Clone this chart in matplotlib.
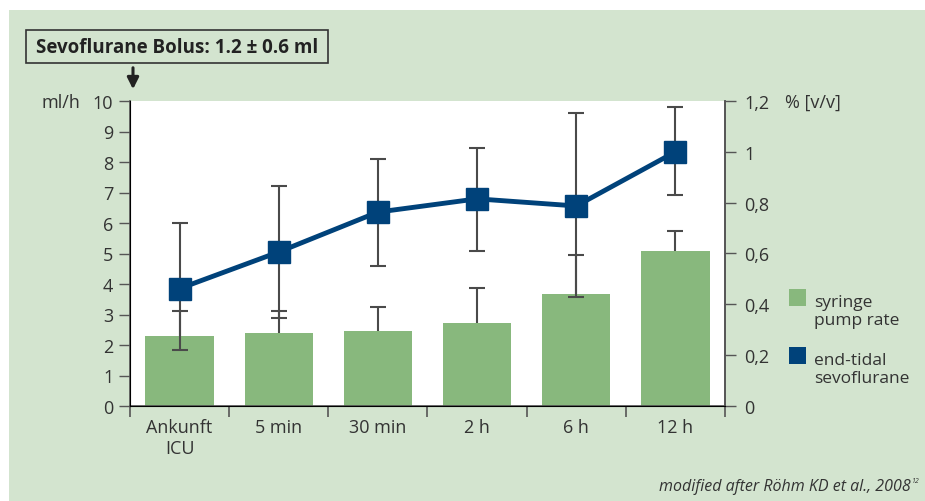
import numpy as np
import matplotlib.pyplot as plt
from matplotlib.patches import Rectangle, FancyArrowPatch

# categories and values
categories = ['Ankunft\nICU', '5 min', '30 min', '2 h', '6 h', '12 h']
pump_rate = [2.30, 2.38, 2.47, 2.73, 3.67, 5.08]        # ml/h
pump_upper = [3.10, 3.10, 3.25, 3.86, 4.95, 5.74]       # ml/h, top of error bar
sevo = [0.462, 0.606, 0.763, 0.815, 0.787, 1.000]       # % v/v
sevo_upper = [0.720, 0.866, 0.972, 1.015, 1.152, 1.176]
sevo_lower = [0.220, 0.348, 0.552, 0.610, 0.428, 0.830]
left_ticks = list(range(0, 11))
right_ticks = [0, 0.2, 0.4, 0.6, 0.8, 1.0, 1.2]
right_labels = ['0', '0,2', '0,4', '0,6', '0,8', '1', '1,2']

bg = '#d3e4cf'
green = '#88b87d'
blue = '#00427a'
dark = '#333333'
errc = '#4a4a4a'

plt.rcParams['font.family'] = ['Open Sans', 'DejaVu Sans']

fig = plt.figure(figsize=(9.25, 5.02), dpi=100)
fig.patch.set_facecolor('white')
fig.patches.append(Rectangle((9/925, 0), 1, 1 - 11/502, transform=fig.transFigure,
                             facecolor=bg, edgecolor='none', zorder=-10))

ax = fig.add_axes([130/925, 1 - 407/502, 595/925, 305/502])
ax.set_facecolor('white')
x = np.arange(len(categories))

# bars with upward-only error bars
ax.bar(x, pump_rate, width=0.69, color=green, zorder=2)
ax.vlines(x, pump_rate, pump_upper, color=errc, lw=1.5, zorder=3)
ax.plot(x, pump_upper, ls='none', marker='_', markersize=12, markeredgewidth=1.5,
        color=errc, zorder=3)
ax.set_xlim(-0.5, len(x) - 0.5)
ax.set_ylim(0, 10)
ax.set_yticks(left_ticks)
ax.set_xticks(x)
ax.set_xticklabels(categories)
ax.set_xticks(np.arange(-0.5, len(x)), minor=True)
ax.tick_params(axis='x', which='major', length=0, pad=9, labelsize=13, colors=dark)
ax.tick_params(axis='x', which='minor', length=8, width=1.2, color='#555555')
ax.tick_params(axis='y', length=8, width=1, color='#555555', labelsize=13, labelcolor=dark, pad=4)
ax.spines['top'].set_visible(False)
for s in ['left', 'bottom', 'right']:
    ax.spines[s].set_color('#555555')
    ax.spines[s].set_linewidth(1.2)

ax2 = ax.twinx()
ax2.set_ylim(0, 1.2)
ax2.set_yticks(right_ticks)
ax2.set_yticklabels(right_labels)
ax2.tick_params(axis='y', length=8, width=1, color='#555555', labelsize=13, labelcolor=dark, pad=6)
ax2.spines['top'].set_visible(False)
ax2.spines['right'].set_color('#555555')
ax2.spines['right'].set_linewidth(1.2)
sevo_err = [np.array(sevo) - np.array(sevo_lower), np.array(sevo_upper) - np.array(sevo)]
ax2.errorbar(x, sevo, yerr=sevo_err, fmt='none', ecolor=errc, elinewidth=1.5,
             capsize=6, capthick=1.5, zorder=3)
ax2.plot(x, sevo, color=blue, lw=3.5, marker='s', markersize=16, zorder=4)

fig.text(80/925, 1 - 103/502, 'ml/h', ha='right', va='center', fontsize=13, color=dark)
fig.text(785/925, 1 - 103/502, '% [v/v]', ha='left', va='center', fontsize=13, color=dark)

# bolus box with arrow
fig.patches.append(Rectangle((26/925, 1 - 64/502), 302/925, 33/502, transform=fig.transFigure,
                             facecolor=bg, edgecolor='#333333', lw=1.2))
fig.text(177/925, 1 - 48/502, 'Sevoflurane Bolus: 1.2 ± 0.6 ml', ha='center', va='center',
         fontsize=13.5, fontweight='bold', color='#222222')
fig.patches.append(FancyArrowPatch((133/925, 1 - 66/502), (133/925, 1 - 93/502),
                                   transform=fig.transFigure, arrowstyle='-|>',
                                   mutation_scale=17, color='#222222', lw=2.2))

# legend
fig.patches.append(Rectangle((789/925, 1 - 307/502), 17/925, 17/502, transform=fig.transFigure,
                             facecolor=green, edgecolor='none'))
fig.text(814/925, 1 - 312/502, 'syringe\npump rate', ha='left', va='center', fontsize=12.5,
         color=dark, linespacing=1.15)
fig.patches.append(Rectangle((789/925, 1 - 365/502), 17/925, 17/502, transform=fig.transFigure,
                             facecolor=blue, edgecolor='none'))
fig.text(814/925, 1 - 370/502, 'end-tidal\nsevoflurane', ha='left', va='center', fontsize=12.5,
         color=dark, linespacing=1.15)

fig.text(911/925, 1 - 487/502, 'modified after Röhm KD et al., 2008', ha='right', va='center',
         fontsize=11.5, style='italic', color=dark)
fig.text(912/925, 1 - 482/502, '12', ha='left', va='center', fontsize=5, style='italic', color=dark)

fig.savefig('out.png', dpi=100)
